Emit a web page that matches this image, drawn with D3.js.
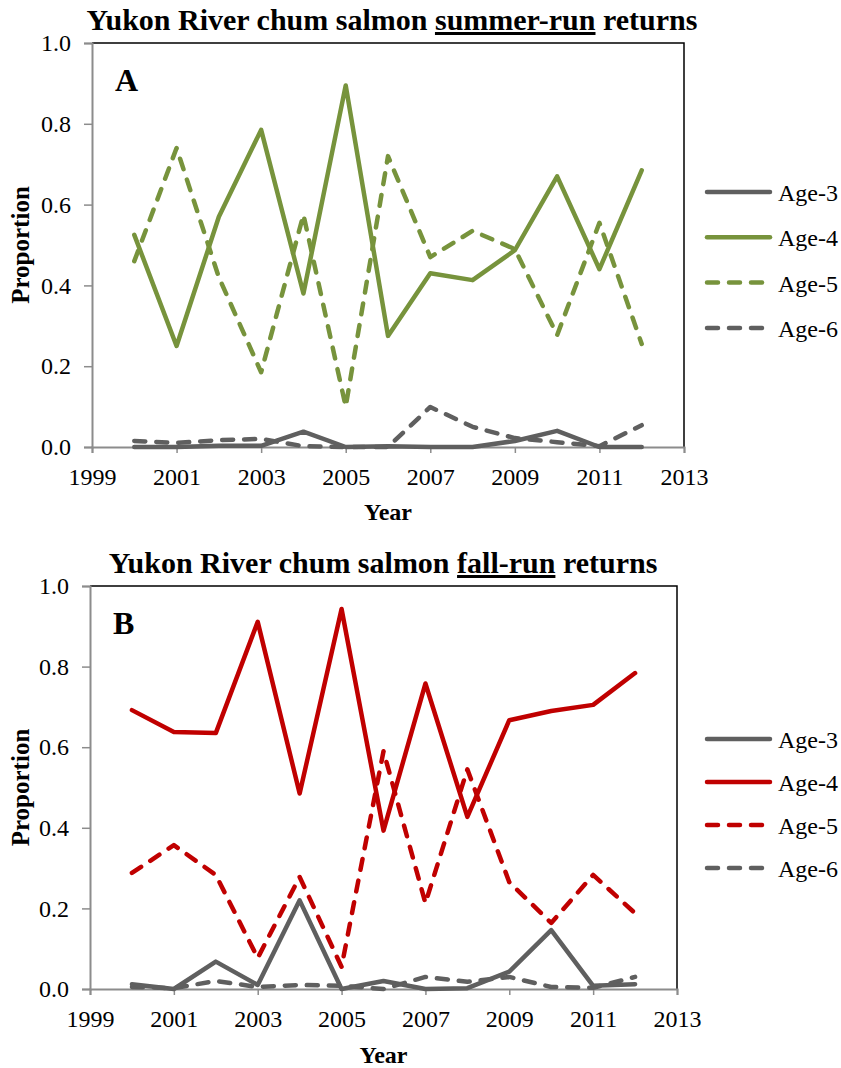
<!DOCTYPE html>
<html>
<head>
<meta charset="utf-8">
<script src="https://cdn.jsdelivr.net/npm/d3@7"></script>
<style>
  body { margin: 0; background: #fff; }
  text { font-family: "Liberation Serif", "Times New Roman", serif; }
</style>
</head>
<body>
<script>
var years = [2000, 2001, 2002, 2003, 2004, 2005, 2006, 2007, 2008, 2009, 2010, 2011, 2012];
var xTicks = [1999, 2001, 2003, 2005, 2007, 2009, 2011, 2013];
var yTicks = [0, 0.2, 0.4, 0.6, 0.8, 1.0];
var seriesNames = ["Age-3", "Age-4", "Age-5", "Age-6"];

// summer-run proportions
var summerAge3 = [0.0, 0.0, 0.003, 0.003, 0.038, 0.0, 0.002, 0.0, 0.0, 0.015, 0.04, 0.0, 0.0];
var summerAge4 = [0.525, 0.25, 0.57, 0.785, 0.38, 0.895, 0.275, 0.43, 0.413, 0.487, 0.67, 0.44, 0.685];
var summerAge5 = [0.46, 0.74, 0.42, 0.185, 0.575, 0.10, 0.72, 0.47, 0.535, 0.49, 0.277, 0.555, 0.255];
var summerAge6 = [0.015, 0.01, 0.017, 0.02, 0.002, 0.0, 0.0, 0.099, 0.05, 0.022, 0.012, 0.002, 0.054];

// fall-run proportions
var fallAge3 = [0.012, 0.0, 0.068, 0.01, 0.22, 0.0, 0.02, 0.0, 0.002, 0.043, 0.146, 0.008, 0.012];
var fallAge4 = [0.692, 0.638, 0.635, 0.911, 0.485, 0.943, 0.393, 0.758, 0.427, 0.667, 0.69, 0.705, 0.784];
var fallAge5 = [0.288, 0.357, 0.283, 0.077, 0.278, 0.055, 0.59, 0.213, 0.545, 0.265, 0.164, 0.283, 0.188];
var fallAge6 = [0.005, 0.002, 0.02, 0.005, 0.01, 0.008, 0.0, 0.03, 0.018, 0.03, 0.005, 0.003, 0.03];

var gray = "#5f5f5f";
var axisGray = "#8c8c8c";

var svg = d3.select("body").append("svg")
  .attr("width", 841)
  .attr("height", 1068);

function drawPanel(cfg) {
  var x = d3.scaleLinear().domain([1999, 2013]).range([cfg.left, cfg.right]);
  var y = d3.scaleLinear().domain([0, 1]).range([cfg.bottom, cfg.top]);
  var g = svg.append("g");

  // title
  var t = g.append("text")
    .attr("x", cfg.titleX)
    .attr("y", cfg.titleY)
    .attr("text-anchor", "middle")
    .attr("font-size", "30px")
    .attr("font-weight", "bold");
  t.append("tspan").text("Yukon River chum salmon ");
  t.append("tspan").attr("text-decoration", "underline").text(cfg.run);
  t.append("tspan").text(" returns");

  // top and right border
  g.append("path")
    .attr("d", "M" + cfg.left + "," + cfg.top + "H" + cfg.right + "V" + cfg.bottom)
    .attr("fill", "none")
    .attr("stroke", "#000")
    .attr("stroke-width", 1.5);

  // y axis
  var yAxis = g.append("g")
    .attr("transform", "translate(" + cfg.left + ",0)")
    .call(d3.axisLeft(y).tickValues(yTicks).tickFormat(d3.format(".1f")).tickSize(8).tickPadding(13));
  yAxis.select(".domain").attr("stroke", axisGray).attr("stroke-width", 2);
  yAxis.selectAll(".tick line").attr("stroke", axisGray).attr("stroke-width", 1.5);
  yAxis.selectAll(".tick text")
    .attr("font-size", "24px")
    .attr("fill", "#000");

  // x axis
  var xAxis = g.append("g")
    .attr("transform", "translate(0," + cfg.bottom + ")")
    .call(d3.axisBottom(x).tickValues(xTicks).tickFormat(d3.format("d")).tickSize(6).tickPadding(15));
  xAxis.select(".domain").attr("stroke", axisGray).attr("stroke-width", 2);
  xAxis.selectAll(".tick line").attr("stroke", axisGray).attr("stroke-width", 1.5);
  xAxis.selectAll(".tick text")
    .attr("font-size", "24px")
    .attr("fill", "#000");

  // axis titles
  g.append("text")
    .attr("transform", "translate(" + cfg.yTitleX + "," + ((cfg.top + cfg.bottom) / 2) + ") rotate(-90)")
    .attr("text-anchor", "middle")
    .attr("font-size", "25px")
    .attr("font-weight", "bold")
    .text("Proportion");
  g.append("text")
    .attr("x", (cfg.left + cfg.right) / 2)
    .attr("y", cfg.xTitleY)
    .attr("text-anchor", "middle")
    .attr("font-size", "24px")
    .attr("font-weight", "bold")
    .text("Year");

  // panel letter
  g.append("text")
    .attr("x", cfg.left + 23)
    .attr("y", cfg.top + 48)
    .attr("font-size", "32px")
    .attr("font-weight", "bold")
    .text(cfg.letter);

  var line = d3.line()
    .x(function(d, i) { return x(years[i]); })
    .y(function(d) { return y(d); });

  var styles = [
    { color: gray, dash: null },
    { color: cfg.color, dash: null },
    { color: cfg.color, dash: "11,11" },
    { color: gray, dash: "11,11" }
  ];
  // draw order: age-6, age-3 under the colored lines
  var order = [3, 0, 2, 1];
  order.forEach(function(k) {
    g.append("path")
      .datum(cfg.series[k])
      .attr("d", line)
      .attr("fill", "none")
      .attr("stroke", styles[k].color)
      .attr("stroke-width", 4.5)
      .attr("stroke-linecap", "round")
      .attr("stroke-linejoin", "round")
      .attr("stroke-dasharray", styles[k].dash);
  });

  // legend
  var leg = g.selectAll(".leg")
    .data(seriesNames)
    .enter()
    .append("g")
    .attr("transform", function(d, i) { return "translate(707," + (cfg.legTop + i * cfg.legStep) + ")"; });
  leg.append("line")
    .attr("x1", 0).attr("x2", 63)
    .attr("stroke", function(d, i) { return styles[i].color; })
    .attr("stroke-width", 4.5)
    .attr("stroke-linecap", "round")
    .attr("stroke-dasharray", function(d, i) { return styles[i].dash; });
  leg.append("text")
    .attr("x", 71)
    .attr("y", 9)
    .attr("font-size", "24px")
    .text(function(d) { return d; });
}

drawPanel({
  run: "summer-run", letter: "A", color: "#77933c",
  left: 92, right: 684, top: 43, bottom: 447,
  titleX: 392, titleY: 30, yTitleX: 29, xTitleY: 520,
  legTop: 192, legStep: 45.3,
  series: [summerAge3, summerAge4, summerAge5, summerAge6]
});

drawPanel({
  run: "fall-run", letter: "B", color: "#c00000",
  left: 90, right: 677, top: 586, bottom: 989,
  titleX: 383, titleY: 573, yTitleX: 29, xTitleY: 1063,
  legTop: 739, legStep: 43,
  series: [fallAge3, fallAge4, fallAge5, fallAge6]
});
</script>
</body>
</html>
